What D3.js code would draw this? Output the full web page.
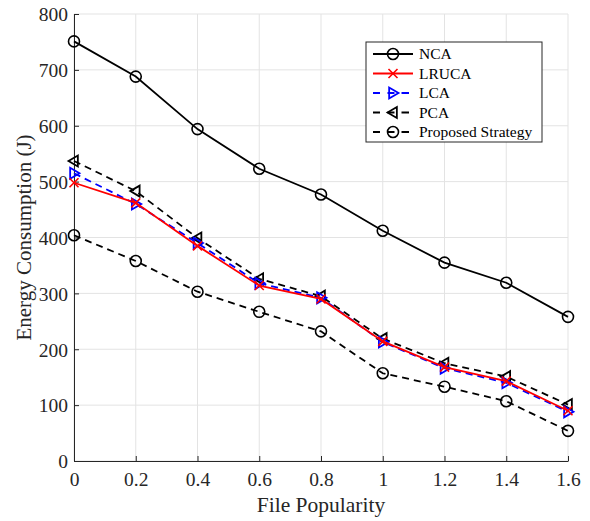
<!DOCTYPE html>
<html>
<head>
<meta charset="utf-8">
<script src="https://cdn.jsdelivr.net/npm/d3@7"></script>
<style>
  html, body { margin: 0; padding: 0; background: #fff; }
  svg { display: block; }
  svg text { font-family: "Liberation Serif", "Times New Roman", serif; }
</style>
</head>
<body>
<svg id="chart" width="590" height="521"></svg>
<script>
// File popularity (x) and energy consumption per strategy (J)
const popularity = [0, 0.2, 0.4, 0.6, 0.8, 1.0, 1.2, 1.4, 1.6];
const nca      = [751, 688, 594, 523, 477, 412, 355, 319, 258];
const lruca    = [498, 462, 385, 314, 290, 214, 168, 143, 90];
const lca      = [515, 460, 390, 318, 292, 213, 166, 140, 88];
const pca      = [537, 483, 399, 326, 295, 219, 175, 151, 101];
const proposed = [404, 358, 303, 267, 232, 157, 133, 107, 54];

const xTicks = [0, 0.2, 0.4, 0.6, 0.8, 1, 1.2, 1.4, 1.6];
const yTicks = [0, 100, 200, 300, 400, 500, 600, 700, 800];

const seriesList = [
  { name: "NCA", values: nca, color: "#000", dash: null, marker: "circle" },
  { name: "LRUCA", values: lruca, color: "#ff0000", dash: null, marker: "cross" },
  { name: "LCA", values: lca, color: "#0000ff", dash: "7,5", marker: "triRight" },
  { name: "PCA", values: pca, color: "#000", dash: "7,5", marker: "triLeft" },
  { name: "Proposed Strategy", values: proposed, color: "#000", dash: "7,5", marker: "circle" }
];

const svg = d3.select("#chart");
const m = { left: 74, right: 568, top: 14, bottom: 461 };

const x = d3.scaleLinear().domain([0, 1.6]).range([m.left, m.right]);
const y = d3.scaleLinear().domain([0, 800]).range([m.bottom, m.top]);

// grid
const grid = svg.append("g").attr("stroke", "#e3e3e3").attr("stroke-width", 1);
xTicks.forEach(t => grid.append("line")
  .attr("x1", x(t)).attr("x2", x(t)).attr("y1", m.top).attr("y2", m.bottom));
yTicks.forEach(t => grid.append("line")
  .attr("x1", m.left).attr("x2", m.right).attr("y1", y(t)).attr("y2", y(t)));

// axes with inward ticks
const axisColor = "#262626";
const xAxis = svg.append("g").attr("transform", `translate(0,${m.bottom})`)
  .call(d3.axisBottom(x).tickValues(xTicks).tickSizeInner(-5).tickSizeOuter(0)
    .tickFormat(d3.format("~g")));
const yAxis = svg.append("g").attr("transform", `translate(${m.left},0)`)
  .call(d3.axisLeft(y).tickValues(yTicks).tickSizeInner(-5).tickSizeOuter(0));
[xAxis, yAxis].forEach(a => {
  a.attr("font-family", null);
  a.select(".domain").attr("stroke", axisColor).attr("stroke-width", 1);
  a.selectAll(".tick line").attr("stroke", axisColor);
  a.selectAll(".tick text").attr("fill", "#262626").style("font-size", "19.5px");
});
xAxis.selectAll(".tick text").attr("dy", "0").attr("y", 25);
yAxis.selectAll(".tick text").attr("x", -6).attr("dy", "0.35em");

// axis titles
svg.append("text").attr("x", (m.left + m.right) / 2).attr("y", 512)
  .attr("text-anchor", "middle").attr("fill", "#262626")
  .style("font-size", "21.5px").text("File Popularity");
svg.append("text")
  .attr("transform", `translate(31,${(m.top + m.bottom) / 2}) rotate(-90)`)
  .attr("text-anchor", "middle").attr("fill", "#262626")
  .style("font-size", "21px").text("Energy Consumption (J)");

// marker drawing
function drawMarker(g, type, cx, cy, color) {
  const s = 5.5;
  if (type === "circle") {
    g.append("circle").attr("cx", cx).attr("cy", cy).attr("r", s)
      .attr("fill", "none").attr("stroke", color).attr("stroke-width", 1.6);
  } else if (type === "cross") {
    const d = 4.5;
    g.append("path")
      .attr("d", `M${cx - d},${cy - d}L${cx + d},${cy + d}M${cx - d},${cy + d}L${cx + d},${cy - d}`)
      .attr("stroke", color).attr("stroke-width", 1.6).attr("fill", "none");
  } else if (type === "triRight") {
    g.append("path")
      .attr("d", `M${cx + s},${cy}L${cx - s * 0.7},${cy - s}L${cx - s * 0.7},${cy + s}Z`)
      .attr("stroke", color).attr("stroke-width", 1.8).attr("fill", "none");
  } else if (type === "triLeft") {
    g.append("path")
      .attr("d", `M${cx - s},${cy}L${cx + s * 0.7},${cy - s}L${cx + s * 0.7},${cy + s}Z`)
      .attr("stroke", color).attr("stroke-width", 1.8).attr("fill", "none");
  }
}

const line = d3.line().x(d => x(d[0])).y(d => y(d[1]));
// draw order so the red line sits on top
const drawOrder = ["NCA", "Proposed Strategy", "PCA", "LCA", "LRUCA"];
drawOrder.forEach(n => {
  const s = seriesList.find(k => k.name === n);
  const g = svg.append("g");
  const pts = popularity.map((p, i) => [p, s.values[i]]);
  g.append("path").datum(pts).attr("d", line)
    .attr("fill", "none").attr("stroke", s.color).attr("stroke-width", 1.8)
    .attr("stroke-dasharray", s.dash);
  pts.forEach(p => drawMarker(g, s.marker, x(p[0]), y(p[1]), s.color));
});

// legend
const lg = svg.append("g");
lg.append("rect").attr("x", 366).attr("y", 42).attr("width", 176).attr("height", 100)
  .attr("fill", "#fff").attr("stroke", "#262626").attr("stroke-width", 1);
seriesList.forEach((s, i) => {
  const cy = 54 + i * 19.5;
  lg.append("line").attr("x1", 373).attr("x2", 413).attr("y1", cy).attr("y2", cy)
    .attr("stroke", s.color).attr("stroke-width", 1.8)
    .attr("stroke-dasharray", s.dash ? "7,7.5,7" : null);
  drawMarker(lg, s.marker, 393, cy, s.color);
  lg.append("text").attr("x", 419).attr("y", cy).attr("dy", "0.35em")
    .attr("fill", "#000").style("font-size", "15.5px").text(s.name);
});
</script>
</body>
</html>
